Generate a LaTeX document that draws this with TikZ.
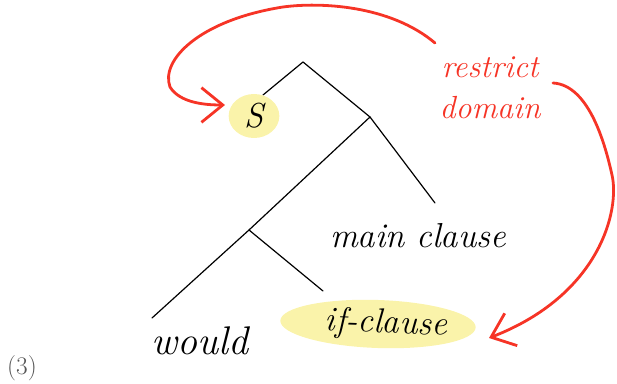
\documentclass[tikz,border=0pt]{standalone}
\usetikzlibrary{arrows.meta,shapes.geometric}
\definecolor{penred}{RGB}{246,52,38}
\definecolor{hlyellow}{RGB}{250,243,170}
\definecolor{numgray}{RGB}{85,85,85}
\begin{document}
\begin{tikzpicture}[
            x=0.75pt,
            y=-0.75pt,
            branch/.style={line width=0.9pt, line cap=round},
            leaf/.style={inner sep=0pt, font=\fontsize{26}{28}\selectfont\itshape},
            marked/.style={leaf, ellipse, fill=hlyellow},
            redpen/.style={draw=penred, line width=2.1pt, line cap=round, line join=round},
            redtext/.style={inner sep=0pt, text=penred, font=\fontsize{24}{26}\selectfont\itshape}
        ]
        \useasboundingbox (0,0) rectangle (617,384);
        % tree junctions and branch ends
        \foreach \name/\x/\y in {
                root/303/62,
                sEnd/263/95,
                mid/370/117,
                mcEnd/435/203,
                low/249/230,
                wEnd/152/318,
                ifEnd/323/291
            } {
                \coordinate (\name) at (\x,\y);
            }
        \foreach \a/\b in {root/sEnd, root/mid, mid/mcEnd, mid/low, low/wEnd, low/ifEnd} {
                \draw[branch] (\a) -- (\b);
            }
        % labels
        \node[marked, minimum width=38pt, minimum height=33pt] (sLabel) at (254,116) {S};
        \node[leaf] (mainLabel) at (418,236) {main clause};
        \node[leaf, font=\fontsize{30}{32}\selectfont\itshape] (wouldLabel) at (200,341) {would};
        \node[marked, rotate=-2, minimum width=122pt, minimum height=36pt] (ifLabel) at (378,324) {\hspace*{12pt}if-clause};
        \node[redtext] (restrictLabel) at (490,67) {restrict};
        \node[redtext] (domainLabel) at (490,108) {domain};
        \node[inner sep=0pt, text=numgray, font=\fontsize{19}{21}\selectfont] (exNum) at (22,368) {(3)};
        % red arrows
        \coordinate (tailA) at (435,43);
        \coordinate (tipA) at (225,105);
        \coordinate (tailB) at (553,83);
        \coordinate (tipB) at (489,338);
        \draw[redpen, -{Straight Barb[length=16pt, width=26pt, line width=2.1pt]}] (tailA)
            .. controls (390,5) and (320,2) .. (283,7)
            .. controls (200,20) and (160,60) .. (170,87)
            .. controls (180,103) and (205,105) .. (tipA);
        \draw[redpen, -{Straight Barb[length=16pt, width=26pt, line width=2.1pt]}] (tailB)
            .. controls (590,85) and (606,148) .. (612,175)
            .. controls (620,210) and (600,295) .. (tipB);
    \end{tikzpicture}
\end{document}
